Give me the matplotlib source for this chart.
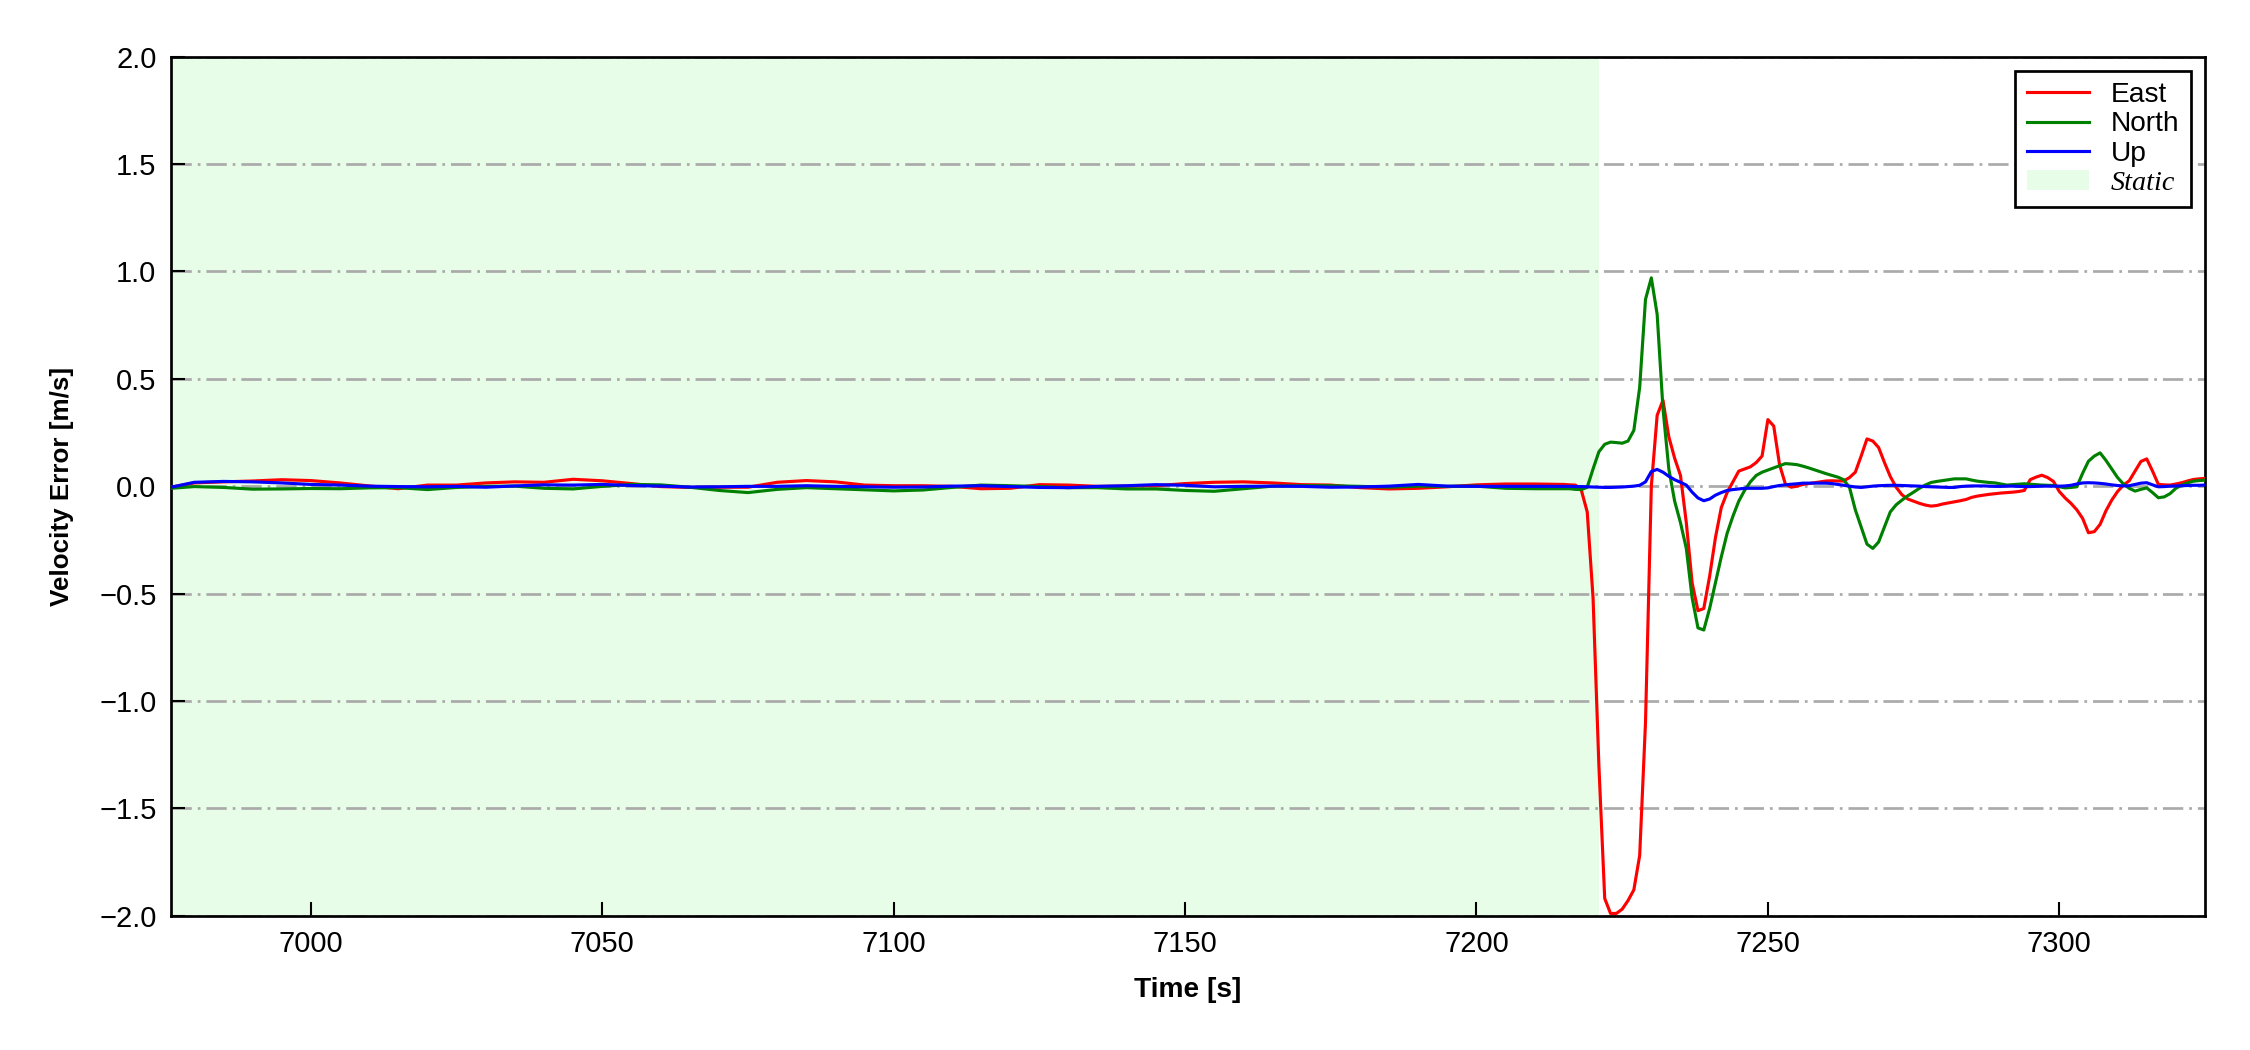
import numpy as np
import matplotlib.pyplot as plt
from matplotlib.patches import Patch
from matplotlib.lines import Line2D

plt.rcParams['font.family'] = ['Liberation Sans', 'DejaVu Sans']

# sampling times: coarse in the static part, 1 s once the vehicle moves
t_static = [6976] + list(range(6980, 7216, 5))
t_dynamic = list(range(7216, 7326))
time = np.array(t_static + t_dynamic, dtype=float)

static_end = 7221.0

east_static = [-0.005, 0.015, 0.020, 0.024, 0.030, 0.026, 0.015, 0.001, -0.012, 0.005,
               0.005, 0.015, 0.020, 0.018, 0.032, 0.025, 0.012, -0.002, -0.006, -0.005,
               -0.005, 0.018, 0.026, 0.020, 0.005, 0.002, 0.002, -0.001, -0.012, -0.010,
               0.007, 0.005, -0.001, 0.000, 0.002, 0.012, 0.018, 0.020, 0.015, 0.007,
               0.005, -0.007, -0.013, -0.010, -0.003, 0.006, 0.010, 0.010, 0.008]
north_static = [-0.010, -0.002, -0.006, -0.014, -0.013, -0.011, -0.012, -0.008, -0.007, -0.016,
                -0.006, -0.001, 0.000, -0.010, -0.013, -0.001, 0.008, 0.006, -0.005, -0.020,
                -0.030, -0.015, -0.007, -0.012, -0.017, -0.022, -0.018, -0.006, 0.005, 0.002,
                -0.002, -0.007, -0.007, -0.013, -0.013, -0.020, -0.024, -0.012, 0.000, 0.002,
                0.002, -0.001, -0.005, 0.000, -0.001, 0.000, -0.010, -0.012, -0.012]
up_static = [-0.005, 0.018, 0.022, 0.020, 0.015, 0.008, 0.005, 0.000, -0.002, -0.003,
             -0.001, -0.005, 0.001, 0.006, 0.005, 0.008, 0.003, 0.000, -0.004, -0.003,
             -0.001, -0.001, 0.002, -0.001, -0.003, -0.005, -0.004, 0.000, 0.002, -0.002,
             -0.006, -0.007, -0.001, 0.002, 0.007, 0.004, -0.003, -0.001, 0.000, -0.001,
             -0.005, -0.004, 0.000, 0.008, 0.000, -0.001, -0.001, -0.001, -0.001]

east_dynamic = [0.006, 0.005, -0.02, -0.12, -0.52, -1.30, -1.92, -1.99, -1.99, -1.97,
                -1.93, -1.88, -1.72, -1.10, 0.00, 0.33, 0.40, 0.23, 0.13, 0.05,
                -0.17, -0.45, -0.58, -0.57, -0.42, -0.24, -0.10, -0.03, 0.02, 0.07,
                0.08, 0.09, 0.11, 0.14, 0.31, 0.28, 0.10, 0.01, -0.005, 0.0,
                0.008, 0.012, 0.016, 0.020, 0.024, 0.025, 0.024, 0.024, 0.040, 0.065,
                0.14, 0.22, 0.21, 0.18, 0.11, 0.045, -0.005, -0.040, -0.060, -0.070,
                -0.080, -0.088, -0.093, -0.090, -0.083, -0.078, -0.073, -0.068, -0.062, -0.052,
                -0.046, -0.042, -0.038, -0.035, -0.032, -0.030, -0.028, -0.025, -0.020, 0.030,
                0.042, 0.051, 0.040, 0.022, -0.025, -0.055, -0.080, -0.110, -0.150, -0.217,
                -0.212, -0.178, -0.115, -0.065, -0.025, 0.005, 0.025, 0.070, 0.115, 0.127,
                0.070, 0.008, 0.006, 0.005, 0.010, 0.016, 0.024, 0.031, 0.034, 0.036]
north_dynamic = [-0.012, -0.015, -0.016, -0.005, 0.08, 0.16, 0.195, 0.205, 0.203, 0.200,
                 0.21, 0.26, 0.46, 0.87, 0.97, 0.80, 0.36, 0.08, -0.07, -0.17,
                 -0.29, -0.52, -0.66, -0.67, -0.57, -0.45, -0.33, -0.22, -0.14, -0.07,
                 -0.02, 0.02, 0.05, 0.065, 0.075, 0.085, 0.095, 0.105, 0.103, 0.10,
                 0.093, 0.085, 0.076, 0.067, 0.058, 0.050, 0.042, 0.030, -0.006, -0.11,
                 -0.19, -0.27, -0.29, -0.26, -0.19, -0.12, -0.087, -0.065, -0.045, -0.028,
                 -0.010, 0.005, 0.017, 0.022, 0.026, 0.030, 0.034, 0.034, 0.034, 0.028,
                 0.023, 0.020, 0.017, 0.015, 0.010, 0.005, 0.007, 0.009, 0.011, 0.009,
                 0.007, 0.005, 0.004, 0.003, -0.003, -0.008, -0.006, -0.003, 0.060, 0.116,
                 0.140, 0.155, 0.120, 0.080, 0.040, 0.010, -0.010, -0.023, -0.015, -0.008,
                 -0.030, -0.054, -0.050, -0.035, -0.010, 0.005, 0.015, 0.023, 0.026, 0.028]
up_dynamic = [-0.001, -0.002, -0.002, -0.003, -0.004, -0.005, -0.006, -0.006, -0.005, -0.004,
              -0.002, 0.000, 0.004, 0.020, 0.068, 0.078, 0.065, 0.046, 0.030, 0.018,
              0.005, -0.028, -0.055, -0.068, -0.060, -0.042, -0.030, -0.020, -0.016, -0.013,
              -0.010, -0.010, -0.010, -0.010, -0.008, -0.002, 0.003, 0.006, 0.009, 0.011,
              0.014, 0.014, 0.014, 0.014, 0.014, 0.012, 0.008, 0.004, 0.000, -0.004,
              -0.006, -0.003, 0.000, 0.002, 0.003, 0.004, 0.004, 0.003, 0.002, 0.001,
              0.000, -0.002, -0.003, -0.004, -0.005, -0.006, -0.006, -0.002, 0.000, 0.001,
              0.001, 0.001, 0.000, -0.001, -0.001, 0.000, 0.000, -0.001, -0.002, -0.002,
              -0.001, 0.000, 0.000, 0.000, 0.000, 0.001, 0.004, 0.010, 0.015, 0.016,
              0.015, 0.013, 0.010, 0.006, 0.003, 0.001, 0.002, 0.008, 0.014, 0.016,
              0.006, -0.003, -0.002, 0.000, 0.001, 0.002, 0.003, 0.004, 0.004, 0.005]

east = np.array(east_static + east_dynamic)
north = np.array(north_static + north_dynamic)
up = np.array(up_static + up_dynamic)

fig = plt.figure(figsize=(15, 7), dpi=150)
ax = fig.add_axes([0.076, 0.128, 0.904, 0.818])

ax.axvspan(6976, static_end, color='#e8fde8', lw=0, zorder=0)
ax.yaxis.grid(True, color='#aaaaaa', lw=1.3, zorder=1)
for gl in ax.get_ygridlines():
    gl.set_dashes([7.5, 2.2, 1.0, 2.2])

ax.plot(time, east, color='red', lw=1.5, zorder=3)
ax.plot(time, north, color='green', lw=1.5, zorder=3)
ax.plot(time, up, color='blue', lw=1.5, zorder=4)

ax.set_xlim(6976, 7325)
ax.set_ylim(-2.0, 2.0)
ax.set_xticks([7000, 7050, 7100, 7150, 7200, 7250, 7300])
ax.set_yticks(np.arange(-2.0, 2.01, 0.5))
ax.tick_params(direction='in', length=6.5, width=1.0, labelsize=14, pad=7)
for s in ax.spines.values():
    s.set_linewidth(1.3)

ax.set_xlabel('Time [s]', fontsize=13.5, fontweight='bold', labelpad=9)
ax.set_ylabel('Velocity Error [m/s]', fontsize=12.5, fontweight='bold', labelpad=12)

handles = [Line2D([], [], color='red', lw=1.5),
           Line2D([], [], color='green', lw=1.5),
           Line2D([], [], color='blue', lw=1.5),
           Patch(facecolor='#e8fde8', edgecolor='none')]
leg = ax.legend(handles, ['East', 'North', 'Up', 'Static'], loc='upper right',
                fontsize=13.5, fancybox=False, framealpha=1, edgecolor='black',
                handlelength=2.2, labelspacing=0.12, borderaxespad=0.5,
                handletextpad=0.8, borderpad=0.4)
leg.get_frame().set_linewidth(1.3)
st = leg.get_texts()[3]
st.set_family(['Liberation Serif', 'DejaVu Serif'])
st.set_style('italic')

fig.savefig('out.png', dpi=150)
